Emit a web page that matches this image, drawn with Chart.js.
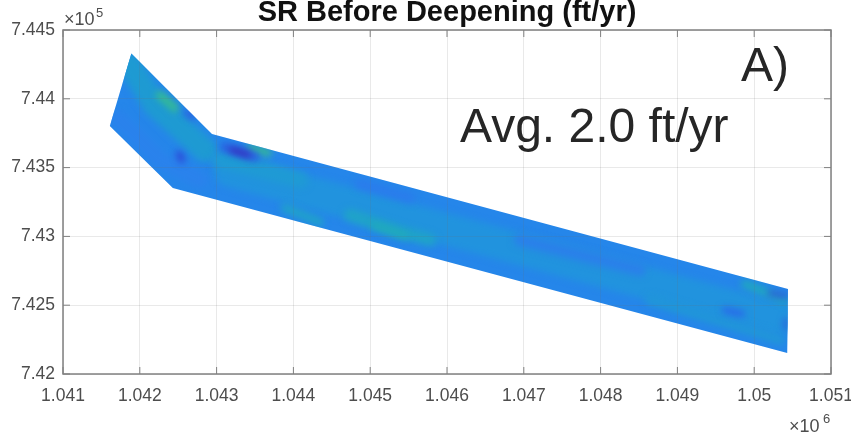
<!DOCTYPE html>
<html>
<head>
<meta charset="utf-8">
<script src="https://cdn.jsdelivr.net/npm/chart.js@4"></script>
<style>
html, body { margin: 0; padding: 0; background: #fff; }
#wrap { width: 851px; height: 437px; }
</style>
</head>
<body>
<div id="wrap"><canvas id="srChart"></canvas></div>
<script>
const xTicks = [1.041, 1.042, 1.043, 1.044, 1.045, 1.046, 1.047, 1.048, 1.049, 1.05, 1.051];
const yTicks = [7.42, 7.425, 7.43, 7.435, 7.44, 7.445];

// outline of the surveyed strip
const bandX = [1.04189, 1.04294, 1.05044, 1.05043, 1.04243, 1.04161, 1.04189];
const bandY = [7.4433, 7.43744, 7.42618, 7.42153, 7.43352, 7.43802, 7.4433];

// streaks of higher / lower rate inside the strip
const coreX = [1.043175, 1.050335];
const coreY = [7.434753, 7.424];
const lobeTealX = [1.041872, 1.042198, 1.042849];
const lobeTealY = [7.442457, 7.43955, 7.43628];
const lobeBlueX = [1.041716, 1.042263, 1.042784];
const lobeBlueY = [7.438605, 7.435553, 7.4341];
const bendTealX = [1.043044, 1.044086];
const bendTealY = [7.435553, 7.4341];
const midTealX = [1.044737, 1.045388, 1.045779];
const midTealY = [7.431556, 7.430321, 7.429739];
const lowTealX = [1.04389, 1.044346];
const lowTealY = [7.432065, 7.431048];
const midBlueX = [1.044867, 1.045518];
const midBlueY = [7.433809, 7.432792];
const eastBlueX = [1.04695, 1.048512];
const eastBlueY = [7.429739, 7.427559];
const endTealX = [1.048643, 1.050335];
const endTealY = [7.425378, 7.422473];
const midGreenX = [1.045062, 1.045453];
const midGreenY = [7.430757, 7.43003];
const lobeGreenX = [1.042263, 1.042458];
const lobeGreenY = [7.440276, 7.439332];
const bendGreenX = [1.043435, 1.043669];
const bendGreenY = [7.436425, 7.436062];
const endGreenX = [1.04988, 1.0504];
const endGreenY = [7.426541, 7.425378];
const haloX = [1.043109, 1.0435];
const haloY = [7.436498, 7.435771];
const darkX = [1.0432, 1.043409];
const darkY = [7.43628, 7.435917];
const dotX = [1.04251, 1.042549];
const dotY = [7.435989, 7.435553];
const edgeDotX = [1.042614, 1.042693];
const edgeDotY = [7.438969, 7.438678];
const endDarkX = [1.050205, 1.050413];
const endDarkY = [7.42589, 7.425669];
const endBlueX = [1.049619, 1.049841];
const endBlueY = [7.424652, 7.424362];
const rimX = [1.050413, 1.050413];
const rimY = [7.423926, 7.423345];

const toPoints = (xs, ys) => xs.map((x, i) => ({ x: x, y: ys[i] }));

const streak = (xs, ys, color, width) => ({
    data: toPoints(xs, ys),
    showLine: true,
    borderColor: color,
    borderWidth: width,
    borderCapStyle: 'round',
    pointRadius: 0,
    fill: false,
    isStreak: true
});

const streaks = [
    streak(coreX, coreY, '#2193de', 32),
    streak(lobeTealX, lobeTealY, '#1e9ad2', 24),
    streak(lobeBlueX, lobeBlueY, '#2a82ec', 16),
    streak(bendTealX, bendTealY, '#1f9ad4', 16),
    streak(midBlueX, midBlueY, '#2a7cec', 10),
    streak(eastBlueX, eastBlueY, '#2a80ea', 12),
    streak(endTealX, endTealY, '#2096d8', 10),
    streak(midTealX, midTealY, '#1fa3c8', 12),
    streak(lowTealX, lowTealY, '#1fa3c8', 8),
    streak(midGreenX, midGreenY, '#20acb8', 6),
    streak(lobeGreenX, lobeGreenY, '#35bd90', 8),
    streak(bendGreenX, bendGreenY, '#35bd90', 7),
    streak(endGreenX, endGreenY, '#1fa8be', 8),
    streak(haloX, haloY, '#2b5fe0', 9),
    streak(darkX, darkY, '#3528b8', 5),
    streak(dotX, dotY, '#2e3fd6', 6),
    streak(edgeDotX, edgeDotY, '#2e55dc', 5),
    streak(endDarkX, endDarkY, '#2e55dc', 5),
    streak(endBlueX, endBlueY, '#2a66ec', 6),
    streak(rimX, rimY, '#2e55dc', 4)
];

const datasets = [{
    data: toPoints(bandX, bandY),
    showLine: true,
    borderColor: '#2586ea',
    borderWidth: 0,
    backgroundColor: '#2586ea',
    pointRadius: 0,
    fill: 'shape',
    order: 100
}].concat(streaks.map((s, i) => Object.assign(s, { order: 50 - i })));

// streaks are soft and stay inside the strip
const softStreaks = {
    id: 'softStreaks',
    beforeDatasetDraw(chart, args) {
        if (!args.meta._dataset.isStreak) return;
        const { ctx, scales } = chart;
        ctx.save();
        ctx.beginPath();
        bandX.forEach((x, i) => ctx.lineTo(scales.x.getPixelForValue(x), scales.y.getPixelForValue(bandY[i])));
        ctx.closePath();
        ctx.clip();
        ctx.filter = 'blur(3.5px)';
    },
    afterDatasetDraw(chart, args) {
        if (args.meta._dataset.isStreak) chart.ctx.restore();
    }
};

// matlab style box with inward ticks, multipliers and the two notes
const axesBox = {
    id: 'axesBox',
    afterDraw(chart) {
        const { ctx, chartArea: a, scales } = chart;
        ctx.save();
        ctx.strokeStyle = '#808080';
        ctx.lineWidth = 1.5;
        ctx.strokeRect(a.left, a.top, a.right - a.left, a.bottom - a.top);
        ctx.lineWidth = 1;
        ctx.beginPath();
        xTicks.forEach(v => {
            const px = scales.x.getPixelForValue(v);
            ctx.moveTo(px, a.bottom); ctx.lineTo(px, a.bottom - 7);
            ctx.moveTo(px, a.top); ctx.lineTo(px, a.top + 7);
        });
        yTicks.forEach(v => {
            const py = scales.y.getPixelForValue(v);
            ctx.moveTo(a.left, py); ctx.lineTo(a.left + 7, py);
            ctx.moveTo(a.right, py); ctx.lineTo(a.right - 7, py);
        });
        ctx.stroke();

        ctx.textBaseline = 'alphabetic';
        ctx.textAlign = 'left';
        ctx.fillStyle = '#4d4d4d';
        ctx.font = '18px "Liberation Sans"';
        ctx.fillText('\u00d710', 64, 25);
        ctx.fillText('\u00d710', 789, 432);
        ctx.font = '13px "Liberation Sans"';
        ctx.fillText('5', 96, 17);
        ctx.fillText('6', 823, 423);

        ctx.fillStyle = '#262626';
        ctx.font = '48px "Liberation Sans"';
        ctx.fillText('A)', 741, 81);
        ctx.fillText('Avg. 2.0 ft/yr', 460, 142);
        ctx.restore();
    }
};

const ctx = document.getElementById('srChart').getContext('2d');

new Chart(ctx, {
    type: 'scatter',
    data: { datasets: datasets },
    plugins: [softStreaks, axesBox],
    options: {
        responsive: true,
        maintainAspectRatio: false,
        animation: false,
        layout: { padding: { top: 0, right: 20, bottom: 0, left: 0 } },
        plugins: {
            legend: { display: false },
            tooltip: { enabled: false },
            title: {
                display: true,
                text: 'SR Before Deepening (ft/yr)',
                fullSize: false,
                color: '#111',
                font: { family: '"Liberation Sans"', size: 29, weight: 'bold', lineHeight: 1 },
                padding: { top: -2, bottom: 3 }
            }
        },
        scales: {
            x: {
                type: 'linear',
                min: 1.041,
                max: 1.051,
                afterBuildTicks: s => { s.ticks = xTicks.map(v => ({ value: v })); },
                afterFit: s => { s.height = 63; s.paddingLeft = 0; s.paddingRight = 0; },
                grid: { color: 'rgba(110,110,110,0.15)', drawTicks: false, z: 1 },
                border: { display: false },
                ticks: {
                    callback: v => String(v),
                    color: '#4d4d4d',
                    font: { family: '"Liberation Sans"', size: 17.5 },
                    padding: 12,
                    maxRotation: 0,
                    autoSkip: false
                }
            },
            y: {
                type: 'linear',
                min: 7.42,
                max: 7.445,
                afterBuildTicks: s => { s.ticks = yTicks.map(v => ({ value: v })); },
                afterFit: s => { s.width = 63; s.paddingTop = 0; s.paddingBottom = 0; },
                grid: { color: 'rgba(110,110,110,0.15)', drawTicks: false, z: 1 },
                border: { display: false },
                ticks: {
                    callback: v => String(v),
                    color: '#4d4d4d',
                    font: { family: '"Liberation Sans"', size: 17.5 },
                    padding: 8,
                    autoSkip: false
                }
            }
        }
    }
});
</script>
</body>
</html>
